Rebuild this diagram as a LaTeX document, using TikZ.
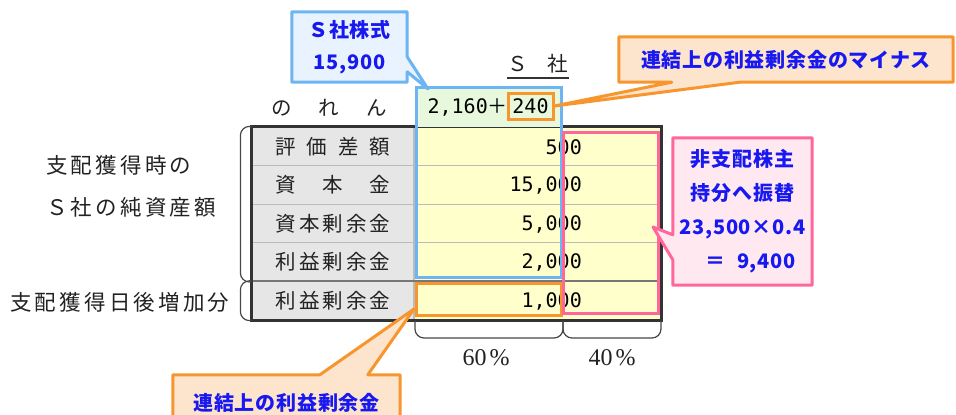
\documentclass[tikz,border=0pt]{standalone}
\usepackage{fontspec}
\setmainfont{Noto Sans CJK JP}
\newfontfamily\jp{Noto Sans CJK JP}
\newfontfamily\jpls[LetterSpace=15]{Noto Sans CJK JP}
\newfontfamily\calfont[LetterSpace=4]{Noto Sans CJK JP}
\newfontfamily\num{DejaVu Sans Mono}
\newfontfamily\sernum{Liberation Serif}
\usetikzlibrary{calc}
\pgfdeclarelayer{fg}
\pgfsetlayers{main,fg}
\definecolor{cblue}{HTML}{6CB4F2}
\definecolor{cbluefill}{HTML}{E8F3FF}
\definecolor{corange}{HTML}{F7962F}
\definecolor{corangefill}{HTML}{FDE4CC}
\definecolor{cpink}{HTML}{FF6699}
\definecolor{cpinkfill}{HTML}{FFE8F0}
\definecolor{ctext}{HTML}{1818F0}
\definecolor{cyellow}{HTML}{FFFFCC}
\definecolor{cgray}{HTML}{E6E6E6}
\definecolor{cgreen}{HTML}{E8F8DC}
\definecolor{cdark}{HTML}{333333}
\definecolor{cline}{HTML}{BBBBBB}
\definecolor{cmid}{HTML}{777777}
\definecolor{ctxt}{HTML}{222222}
\begin{document}
\begin{tikzpicture}[x=1pt,y=-1pt,
  lcell/.style={draw=cline, line width=1.2pt, fill=cgray, minimum width=162pt, minimum height=38.6pt, inner sep=0pt, text=ctxt, font=\jp\fontsize{20.5}{24}\selectfont},
  vcell/.style={draw=cline, line width=1.2pt, fill=cyellow, minimum width=247pt, minimum height=38.6pt, inner sep=0pt},
  numtxt/.style={anchor=east, inner sep=0pt, text=black, font=\num\fontsize{20}{22}\selectfont},
  plaintxt/.style={inner sep=0pt, text=ctxt, font=\jp\fontsize{20.5}{24}\selectfont},
  lefttxt/.style={inner sep=0pt, anchor=west, text=ctxt, font=\jpls\fontsize{21.5}{24}\selectfont},
  pcttxt/.style={inner sep=0pt, text=ctxt, font=\sernum\fontsize{24}{26}\selectfont},
  calltxt/.style={inner sep=0pt, text=ctext, align=center, font=\calfont\bfseries\fontsize{20}{32}\selectfont},
  frameB/.style={draw=cblue, line width=3pt, inner sep=0pt},
  frameO/.style={draw=corange, line width=3pt, inner sep=0pt},
  frameP/.style={draw=cpink, line width=3pt, inner sep=0pt},
  callB/.style={draw=cblue, fill=cbluefill, line width=3pt, line join=round},
  callO/.style={draw=corange, fill=corangefill, line width=3pt, line join=round},
  callP/.style={draw=cpink, fill=cpinkfill, line width=3pt, line join=round},
  bracket/.style={draw=cdark!90, line width=1.2pt, rounded corners=9pt}
]
\useasboundingbox (0,0) rectangle (956,415);
\clip (0,0) rectangle (956,415);

% table cells
\node[lcell] (l1) at (333,146.3) {\makebox[115pt][s]{評\hfil 価\hfil 差\hfil 額}};
\node[lcell] (l2) at (333,184.9) {\makebox[115pt][s]{資\hfil 本\hfil 金}};
\node[lcell] (l3) at (333,223.5) {\makebox[115pt][s]{資\hfil 本\hfil 剰\hfil 余\hfil 金}};
\node[lcell] (l4) at (333,262.1) {\makebox[115pt][s]{利\hfil 益\hfil 剰\hfil 余\hfil 金}};
\node[lcell] (l5) at (333,300.7) {\makebox[115pt][s]{利\hfil 益\hfil 剰\hfil 余\hfil 金}};
\node[vcell] (v1) at (537.5,146.3) {};
\node[vcell] (v2) at (537.5,184.9) {};
\node[vcell] (v3) at (537.5,223.5) {};
\node[vcell] (v4) at (537.5,262.1) {};
\node[vcell] (v5) at (537.5,300.7) {};
\draw[cmid, line width=1.4pt] (l5.north west) -- (v5.north east);
\draw[cdark, line width=3.5pt] (l1.north west) rectangle (v5.south east);

% numbers
\node[numtxt] (n1) at (582,147) {500};
\node[numtxt] (n2) at (582,185.5) {15,000};
\node[numtxt] (n3) at (582,224) {5,000};
\node[numtxt] (n4) at (582,262.5) {2,000};
\node[numtxt] (n5) at (582,301) {1,000};

% goodwill row
\fill[cgreen] (416,87) rectangle (561,127);
\node[numtxt] (gwa) at (508,107) {2,160{\jp ＋}};
\node[frameO, minimum width=45pt, minimum height=26pt, font=\num\fontsize{20}{22}\selectfont] (g240) at (530.5,106) {240};
\node[plaintxt] (nrn) at (329,108) {\makebox[116pt][s]{の\hfil れ\hfil ん}};

% header
\node[plaintxt, minimum width=62pt, minimum height=28pt] (hdr) at (538,64) {Ｓ\hspace{20pt}社};
\draw[cdark, line width=1.5pt] (hdr.south west) -- (hdr.south east);

% frames
\node[frameB, minimum width=145pt, minimum height=190pt] (scol) at (488.5,182) {};
\node[frameO, minimum width=145pt, minimum height=32pt] (ocol) at (488.5,299) {};
\node[frameP, minimum width=95pt, minimum height=181pt] (pcol) at (610.5,222.5) {};

% left texts
\node[lefttxt] (t1) at (46,165) {支配獲得時の};
\node[lefttxt] (t2) at (46,207) {Ｓ社の純資産額};
\node[lefttxt] (t3) at (10,302) {支配獲得日後増加分};

% brackets
\draw[bracket] (l1.north west) -- ($(l1.north west)+(-11,0)$) -- ($(l4.south west)+(-11,0)$) -- (l4.south west);
\draw[bracket] (l5.north west) -- ($(l5.north west)+(-11,0)$) -- ($(l5.south west)+(-11,0)$) -- (l5.south west);
\coordinate (bA) at (415,321);
\coordinate (bM) at (563,321);
\coordinate (bB) at (661,321);
\draw[bracket] (bA) -- ($(bA)+(0,17)$) -- ($(bM)+(0,17)$) -- (bM);
\draw[bracket] (bM) -- ($(bM)+(0,17)$) -- ($(bB)+(0,17)$) -- (bB);
\node[pcttxt] (p60) at (486,358) {60\hspace{3pt}\%};
\node[pcttxt] (p40) at (612,358) {40\hspace{3pt}\%};

% callout texts
\begin{pgfonlayer}{fg}
\node[calltxt, minimum width=115pt, minimum height=70pt] (sk) at (349.5,47) {Ｓ社株式\\15,900};
\node[calltxt, minimum width=334pt, minimum height=45pt] (om) at (786,59.5) {連結上の利益剰余金のマイナス};
\node[calltxt, minimum width=139pt, minimum height=147pt, font=\calfont\bfseries\fontsize{20}{34}\selectfont] (pk) at (742.5,211.5) {非支配株主\\持分へ振替\\23,500×0.4\\\hspace*{16pt}＝\hspace{12pt}9,400};
\node[calltxt, minimum width=227pt, minimum height=55pt] (ob) at (286.5,402.5) {連結上の利益剰余金};
\end{pgfonlayer}

% callout outlines
\coordinate (tipS) at (428,89);
\coordinate (tipP) at (653,227);
\coordinate (tipB) at (414,309);
\draw[callB] (sk.north west) -- (sk.north east) -- ($(sk.north east)+(0,45)$) -- (tipS) -- ($(sk.north east)+(0,60)$) -- (sk.south east) -- (sk.south west) -- cycle;
\draw[callO] (om.north west) -- (om.north east) -- (om.south east) -- ($(om.south west)+(121,0)$) -- (g240.east) -- ($(om.south west)+(53,0)$) -- (om.south west) -- cycle;
\draw[callP] (pk.north west) -- (pk.north east) -- (pk.south east) -- (pk.south west) -- ($(pk.north west)+(0,122)$) -- (tipP) -- ($(pk.north west)+(0,97)$) -- cycle;
\draw[callO] (ob.south west) -- (ob.north west) -- ($(ob.north west)+(147,0)$) -- (tipB) -- ($(ob.north west)+(195,0)$) -- (ob.north east) -- (ob.south east) -- cycle;
\end{tikzpicture}
\end{document}
